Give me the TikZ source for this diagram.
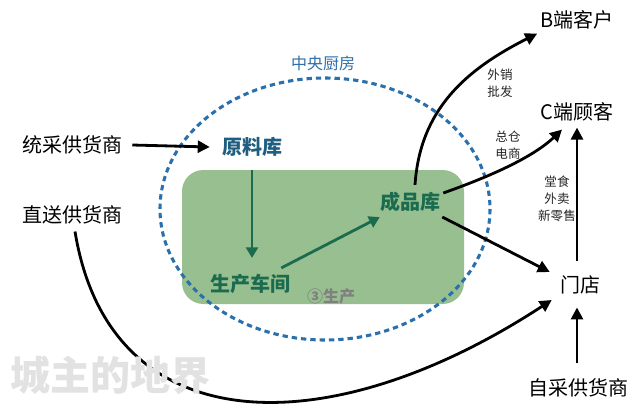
\documentclass[tikz,border=0pt]{standalone}
\usepackage{fontspec}
\setmainfont{Noto Sans CJK SC}
\usetikzlibrary{arrows.meta,calc}
\definecolor{boxgreen}{HTML}{98BF8F}
\definecolor{dkgreen}{HTML}{1B6C4F}
\definecolor{dkblue}{HTML}{1F5E80}
\definecolor{midblue}{HTML}{2E6FA8}
\definecolor{dashblue}{HTML}{2A70AC}
\definecolor{wmgray}{HTML}{E2E2E2}
\tikzset{
  big/.style={font=\fontsize{15}{18}\selectfont, text=black},
  bigbold/.style={font=\fontsize{15}{18}\selectfont\bfseries},
  small/.style={font=\fontsize{9.4}{12.75}\selectfont, align=center, text=black!85},
  blk/.style={line width=2.1pt, draw=black, -{Triangle[length=9pt,width=9pt]}},
  grn/.style={line width=2.1pt, draw=dkgreen, -{Triangle[length=8pt,width=9pt]}},
}
\begin{document}
\begin{tikzpicture}[x=0.75pt,y=-0.75pt, every node/.style={inner sep=0pt}]
\useasboundingbox (0,0) rectangle (640,411);
\fill[white] (0,0) rectangle (640,411);
% production box and central kitchen
\fill[boxgreen, rounded corners=16pt] (182,170) rectangle (464,304);
\draw[dashblue, line width=2.3pt, dash pattern=on 4pt off 3pt] (325,209) ellipse [x radius=165, y radius=131];
\node[font=\fontsize{12}{14}\selectfont, text=midblue] (zy) at (323,63) {中央厨房};
% nodes
\node[big] (tc) at (72,145) {统采供货商};
\node[big] (zs) at (72,215) {直送供货商};
\node[bigbold, text=dkblue] (ylk) at (252,147) {原料库};
\node[bigbold, text=dkgreen] (sccj) at (250,284) {生产车间};
\node[bigbold, text=dkgreen] (cpk) at (410,202) {成品库};
\node[font=\fontsize{12}{14}\selectfont\bfseries, text=black!50] (sc) at (331,296) {③生产};
\node[big] (B) at (577,20) {B端客户};
\node[big] (C) at (577,112) {C端顾客};
\node[big] (md) at (580,285) {门店};
\node[big] (zc) at (578,388) {自采供货商};
\node[small] (l1) at (500,83.5) {外销\\批发};
\node[small] (l2) at (508,145) {总仓\\电商};
\node[small] (l3) at (557,199) {堂食\\外卖\\新零售};
% connectors
\draw[blk] ($(tc.east)+(10,0)$) -- ($(ylk.west)+(-12,0)$);
\draw[grn] ($(ylk.south)+(0,13)$) -- ($(ylk.south |- sccj.north)+(0,-16)$);
\draw[grn] ($(sccj.north east)+(-9,-6)$) -- ($(cpk.south west)+(0,5)$);
\draw[blk] ($(cpk.north)+(5,-7)$) .. controls (420,110) and (465,70) .. ($(B.south west)+(-3,4)$);
\draw[blk] ($(cpk.east)+(3,-9)$) .. controls (480,180) and (530,160) .. ($(C.south)+(-15,8)$);
\draw[blk] ($(cpk.east)+(2,15)$) -- ($(md.west)+(-10,-13)$);
\draw[blk] ($(zs.south)+(3,7)$) .. controls (110,445) and (330,445) .. ($(md.west)+(-8,15)$);
\draw[blk] ($(C.south |- md.north)+(0,-15)$) -- ($(C.south)+(0,6)$);
\draw[blk] ($(zc.north)+(-1,-15)$) -- ($(zc.north |- md.south)+(-1,13)$);
% watermark
\node[font=\fontsize{30}{34}\selectfont\bfseries, text=wmgray] (wm) at (111,375) {城主的地界};
\end{tikzpicture}
\end{document}
